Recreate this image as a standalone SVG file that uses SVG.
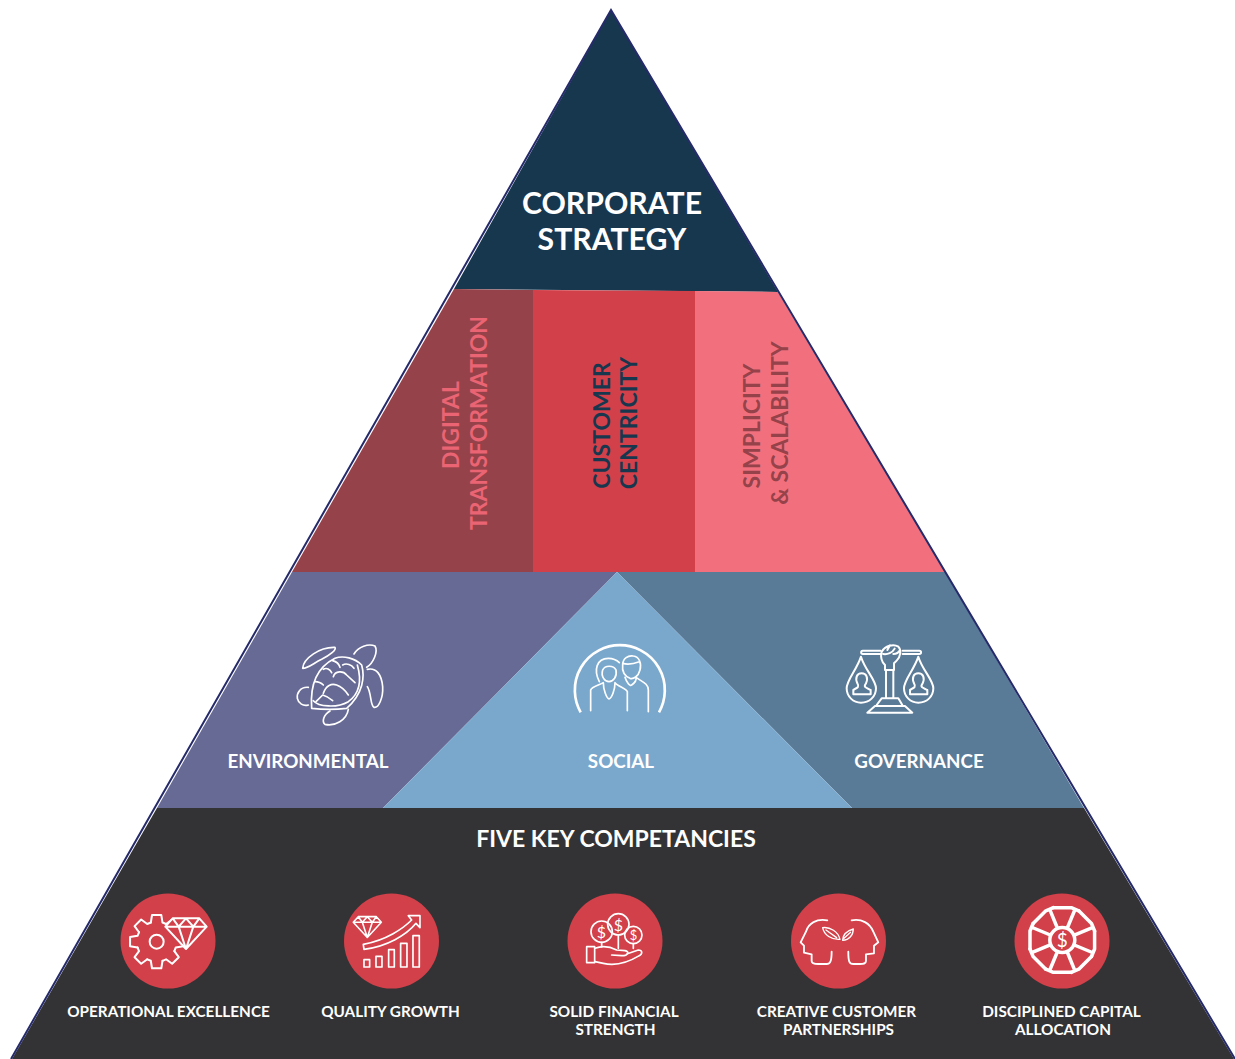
<svg xmlns="http://www.w3.org/2000/svg" xmlns:xlink="http://www.w3.org/1999/xlink" width="1235" height="1059" viewBox="0 0 1235 1059">
<style>
text{font-family:"Lato","Noto Sans",sans-serif;font-weight:700;text-anchor:middle}
.ic{fill:none;stroke:#fff;stroke-linecap:round;stroke-linejoin:round}
.z6{stroke-width:5}
.disc{fill:#d2404a}
.lab{font-size:15.300px;fill:#fff}
.big{font-size:30.200px;fill:#fff}
.esg{font-size:18.800px;fill:#fff}
.v{font-size:23px}
.d{font-family:"Lato",sans-serif;fill:#fff;font-weight:400}
</style>
<defs>
<path id="gem" d="M-62 25L-40 0H40L62 25L0 92ZM-62 25H62M-22 25L0 92L22 25M-40 0L-22 25L0 0L22 25L40 0"/>
<path id="tooth" d="M-17.5-57.4L-14-79.8H14L17.5-57.4L28.2-53"/>
<path id="drop" d="M0 0C-13 40-43 70-43 95C-43 120-23 138 0 138C25 138 45 120 45 95C45 70 12 40 0 0Z"/>
<path id="person" d="M0 50C-15 50-20 65-13 80C-7 90-10 92-25 100V113H27V100C10 92 5 90 13 80C20 65 15 50 0 50Z"/>
<path id="wheel" d="M-9-32.3H9L16.5-29.2M12.500-30L5-12"/>
</defs>

<g id="corporate-strategy">
<polygon points="611,10 778,292 454,289" fill="#17374f"/>
<text class="big" x="612" y="214">CORPORATE</text>
<text class="big" x="612" y="250">STRATEGY</text>
</g>

<g id="digital-transformation">
<polygon points="454,289 533,290 533,572 292,572" fill="#95424a"/>
<text class="v" fill="#ea6473" transform="translate(459 425) rotate(-90)">DIGITAL</text>
<text class="v" fill="#ea6473" transform="translate(487 423) rotate(-90)">TRANSFORMATION</text>
</g>
<g id="customer-centricity">
<polygon points="533,290 695,291 695,572 533,572" fill="#d2404a"/>
<text class="v" fill="#17374f" transform="translate(610 425.500) rotate(-90)">CUSTOMER</text>
<text class="v" fill="#17374f" transform="translate(637 423) rotate(-90)">CENTRICITY</text>
</g>
<g id="simplicity-scalability">
<polygon points="695,291 778,292 945,572 695,572" fill="#f2707d"/>
<text class="v" fill="#95424a" transform="translate(760 426) rotate(-90)">SIMPLICITY</text>
<text class="v" fill="#95424a" transform="translate(788 423) rotate(-90)">&amp; SCALABILITY</text>
</g>

<g id="environmental">
<polygon points="292,572 617,572 383,808 157,808" fill="#676a95"/>
<g class="ic z6" transform="translate(280 630) scale(.3333)">
<path d="M95 235C90 170 105 115 165 85C190 75 225 85 245 105C255 140 250 190 200 235C160 240 120 238 95 235Z"/>
<path d="M100 212C115 230 170 235 205 215C240 190 245 150 232 105"/>
<path d="M68 115C70 85 120 50 165 52C170 60 150 75 125 88C100 100 85 115 68 115Z"/>
<path d="M222 72C235 50 265 40 285 48C295 65 280 100 260 112"/>
<path d="M262 118C290 112 305 135 308 170C310 205 295 235 282 232C270 225 275 190 262 170"/>
<path d="M85 172C60 170 50 190 52 205C55 220 70 230 85 225"/>
<path d="M150 243C130 255 125 275 135 283C165 290 200 270 205 238"/>
<path d="M130 118C140 112 150 118 155 128M158 92C170 95 178 105 180 112M188 105C200 98 215 105 222 115M160 140C165 122 190 122 200 135L225 158M105 155C115 155 125 160 130 165M130 190C138 165 155 160 170 165C185 170 195 180 205 195M108 215L128 195C140 198 150 205 158 212"/>
</g>
<text class="esg" x="308" y="768">ENVIRONMENTAL</text>
</g>

<g id="governance">
<polygon points="617,572 945,572 1084,808 852,808" fill="#5a7b98"/>
<g class="ic" stroke-width="6" transform="translate(830 630) scale(.3333)">
<path d="M152 62H98C92 62 92 72 98 72H152M218 62H268C275 62 275 72 268 72H218"/>
<path d="M155 65C165 48 190 40 205 50C215 60 212 80 200 92L192 100V120H165V105C155 95 150 85 155 65ZM160 72C172 74 188 68 194 56M172 60L180 46M190 72C198 72 206 68 210 60"/>
<path d="M168 122V205M190 122V205M140 225L155 205H205L217 225M112 248L135 228H225L247 248Z"/>
<use href="#drop" transform="translate(93 80)"/>
<use href="#drop" transform="translate(265 80)"/>
<use href="#person" transform="translate(95 80)"/>
<use href="#person" transform="translate(265 80)"/>
</g>
<text class="esg" x="919" y="768">GOVERNANCE</text>
</g>

<g id="social">
<polygon points="617,572 852,808 383,808" fill="#7aa8cd"/>
<g class="ic" stroke-width="5" transform="translate(560 630) scale(.3333)">
<path stroke-width="8" stroke-linecap="butt" d="M62 247A135 135 0 1 1 297 247"/>
<path d="M118 155C100 120 110 85 145 85C160 85 170 90 178 98"/>
<path d="M128 120C135 105 160 105 168 120C172 140 160 155 147 155C135 155 122 140 128 120Z"/>
<path d="M92 242V180C95 170 120 165 130 158C130 180 140 205 147 207C155 205 165 180 165 158C175 170 200 175 202 185V242"/>
<path d="M188 105C188 85 205 75 220 78C238 80 245 100 240 120C235 140 220 148 210 145C195 140 185 125 188 105ZM188 100C205 105 225 100 238 95"/>
<path d="M195 142C200 158 210 170 215 165C222 160 230 150 228 142C245 155 265 160 265 180V245"/>
</g>
<text class="esg" x="621" y="768">SOCIAL</text>
</g>

<g id="competencies">
<polygon points="157,808 1084,808 1234,1059 12,1059" fill="#333335"/>
<text x="616" y="847" font-size="23" fill="#fff">FIVE KEY COMPETANCIES</text>
</g>

<g id="operational-excellence">
<circle class="disc" cx="168" cy="941" r="47.500"/>
<g class="ic" stroke-width="6" transform="translate(110 885) scale(.3333)">
<g transform="translate(140 170)">
<use href="#tooth"/><use href="#tooth" transform="rotate(45)"/><use href="#tooth" transform="rotate(90)"/><use href="#tooth" transform="rotate(135)"/><use href="#tooth" transform="rotate(180)"/><use href="#tooth" transform="rotate(225)"/><use href="#tooth" transform="rotate(270)"/><use href="#tooth" transform="rotate(315)"/>
<circle r="21"/>
</g>
<polygon points="166,125 188,100 268,100 290,125 228,192" fill="#d2404a" stroke="none"/>
<use href="#gem" transform="translate(228 100)"/>
</g>
<text class="lab" x="168.500" y="1017">OPERATIONAL EXCELLENCE</text>
</g>

<g id="quality-growth">
<circle class="disc" cx="391.500" cy="941" r="47.500"/>
<g class="ic" stroke-width="5" transform="translate(110 885) scale(.3333)">
<use href="#gem" transform="translate(772 95) scale(.68)" stroke-width="7"/>
<path d="M760 178C830 165 880 130 905 105L895 92H930V128L918 115C890 150 830 185 762 193Z"/>
<rect x="762" y="224" width="17" height="22"/><rect x="798" y="214" width="18" height="32"/><rect x="836" y="194" width="17" height="52"/><rect x="872" y="175" width="19" height="71"/><rect x="909" y="152" width="19" height="94"/>
</g>
<text class="lab" x="390.500" y="1017">QUALITY GROWTH</text>
</g>

<g id="solid-financial-strength">
<circle class="disc" cx="615" cy="941" r="47.500"/>
<g class="ic" stroke-width="5" transform="translate(560 885) scale(.3333)">
<circle cx="125" cy="140" r="32"/><circle cx="175" cy="118" r="32"/><circle cx="220" cy="150" r="26"/>
<path d="M125 172V185M175 150V190M220 176V190"/>
<rect x="80" y="185" width="24" height="48"/>
<path d="M105 190C130 180 150 185 170 195L195 197C210 200 205 212 185 212L155 210M200 207L235 195C248 195 248 207 238 212C200 235 160 242 130 235L105 230"/>
</g>
<text class="d" x="601.500" y="938" font-size="16">$</text>
<text class="d" x="618.500" y="930.500" font-size="16">$</text>
<text class="d" x="633.500" y="939.500" font-size="13">$</text>
<text class="lab" x="614" y="1017">SOLID FINANCIAL</text>
<text class="lab" x="615.500" y="1035">STRENGTH</text>
</g>

<g id="creative-customer-partnerships">
<circle class="disc" cx="838.500" cy="941" r="47.500"/>
<g class="ic" stroke-width="5.500" transform="translate(560 885) scale(.3333)">
<path d="M802 106C770 100 745 115 738 140L722 172L732 182V203L755 208V228C755 235 765 237 775 237H800C810 237 815 230 815 200"/>
<path d="M875 106C905 100 930 115 940 140L955 172L942 182V205L918 208V228C918 237 910 237 900 237H880C868 237 865 230 865 200"/>
<path stroke-width="4" d="M788 128C810 125 835 140 840 163C815 165 792 150 788 128ZM798 135L830 158M880 132C880 150 868 165 848 166C848 150 860 138 880 132ZM852 160L872 142"/>
</g>
<text class="lab" x="836.500" y="1017">CREATIVE CUSTOMER</text>
<text class="lab" x="838.500" y="1035">PARTNERSHIPS</text>
</g>

<g id="disciplined-capital-allocation">
<circle class="disc" cx="1062" cy="941" r="47.500"/>
<g class="ic" stroke-width="3.500" transform="translate(1062.300 940)">
<use href="#wheel"/><use href="#wheel" transform="rotate(45)"/><use href="#wheel" transform="rotate(90)"/><use href="#wheel" transform="rotate(135)"/><use href="#wheel" transform="rotate(180)"/><use href="#wheel" transform="rotate(225)"/><use href="#wheel" transform="rotate(270)"/><use href="#wheel" transform="rotate(315)"/>
<circle r="12.500" fill="#d2404a"/>
</g>
<text class="d" x="1062.300" y="947" font-size="19">$</text>
<text class="lab" x="1061.500" y="1017">DISCIPLINED CAPITAL</text>
<text class="lab" x="1063" y="1035">ALLOCATION</text>
</g>

<g id="outline">
<polyline points="11,1059 611,10 1235,1059" fill="none" stroke="#252a6b" stroke-width="2"/>
</g>
</svg>
